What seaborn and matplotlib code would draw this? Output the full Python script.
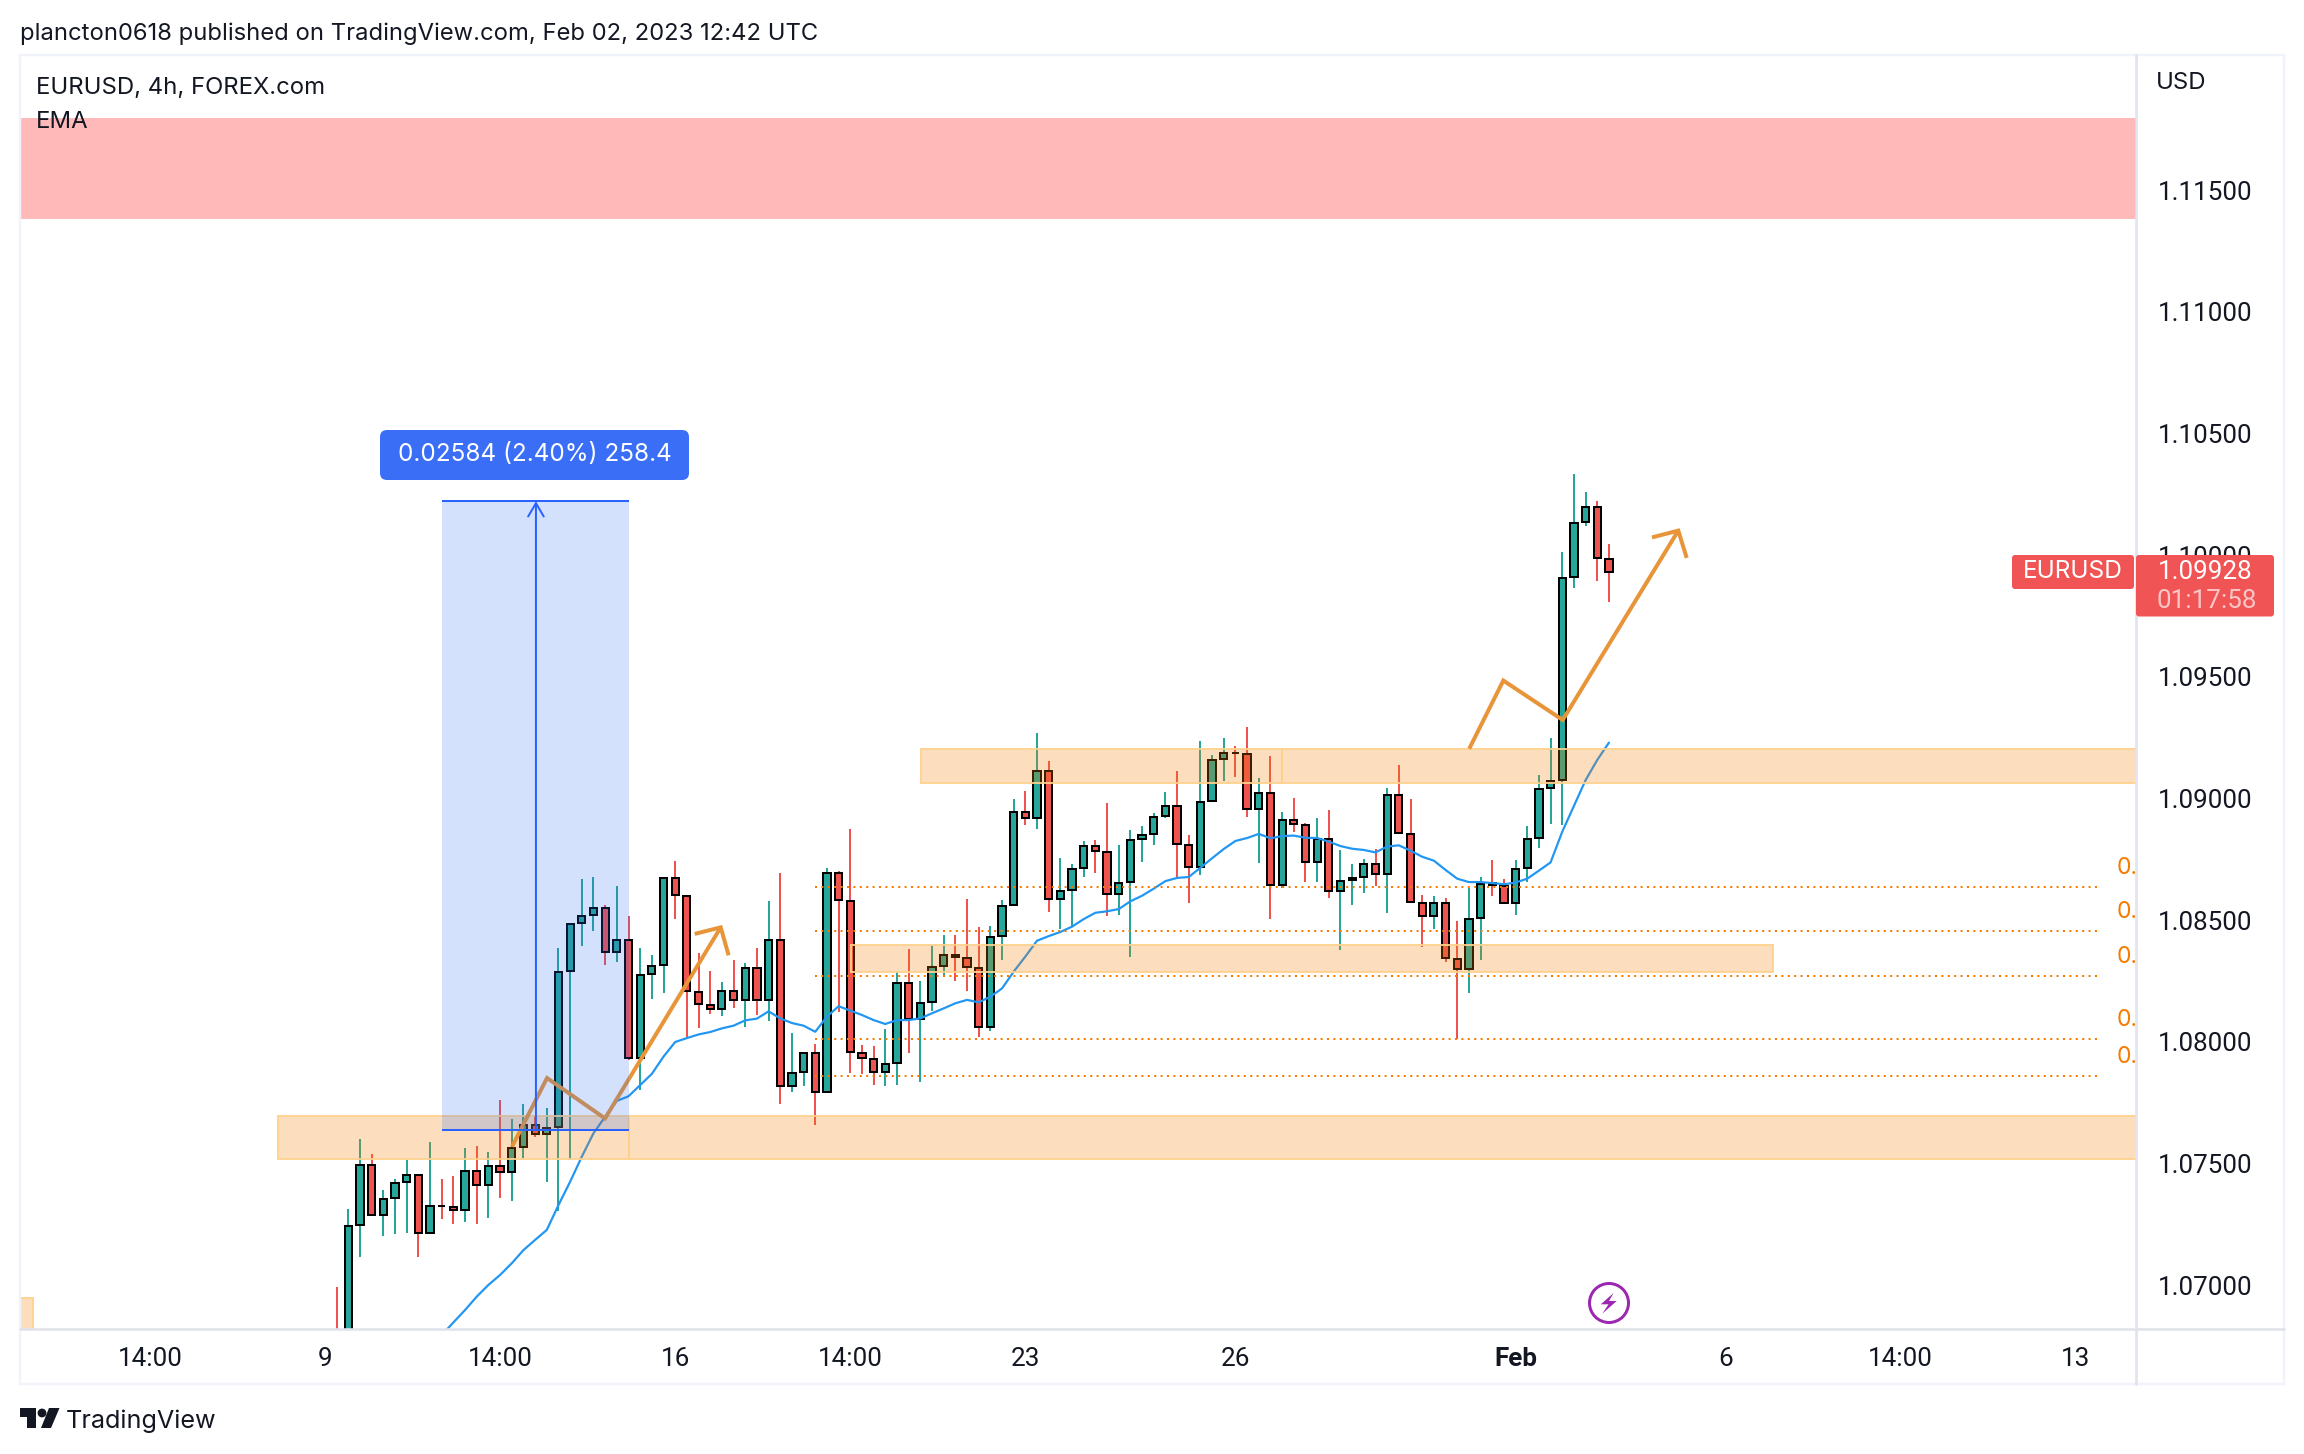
import matplotlib
matplotlib.use("Agg")
import matplotlib.pyplot as plt
import numpy as np
import pandas as pd
import seaborn as sns
from matplotlib.patches import Rectangle, FancyBboxPatch, Circle, Polygon
from matplotlib.lines import Line2D
from matplotlib.transforms import Affine2D

# ---------- data ----------
opens = [1.0680,1.0675,1.07248,1.07495,1.07289,1.07359,1.07425,1.07454,1.07215,1.07328,
 1.07322,1.0731,1.0747,1.07412,1.07491,1.07466,1.07569,1.07659,1.07622,1.07651,
 1.08292,1.08489,1.08522,1.08551,1.0837,1.08419,1.07934,1.08279,1.08316,1.08675,
 1.086,1.08205,1.08152,1.08136,1.0821,1.08173,1.08304,1.08173,1.08419,1.07819,
 1.07877,1.07955,1.07795,1.08694,1.08579,1.07955,1.0793,1.07877,1.07914,1.08242,
 1.08094,1.08164,1.08312,1.08357,1.08345,1.08304,1.08062,1.08435,1.08563,1.08945,
 1.0892,1.09113,1.08588,1.08624,1.08715,1.08805,1.08781,1.08608,1.08657,1.08834,
 1.08855,1.08929,1.0897,1.08809,1.08719,1.0899,1.09163,1.09189,1.09183,1.08957,
 1.09023,1.08645,1.08912,1.08892,1.0874,1.08834,1.0862,1.08666,1.08678,1.08731,
 1.0869,1.09015,1.08855,1.08571,1.08518,1.08571,1.08341,1.083,1.08509,1.08652,
 1.08641,1.08571,1.08715,1.08838,1.09044,1.09076,1.0991,1.10136,1.10199,1.09984]
highs = [1.06993,1.07313,1.0760,1.07538,1.07392,1.07436,1.07515,1.07454,1.07588,1.07436,
 1.07448,1.07563,1.07571,1.07547,1.07762,1.07682,1.07745,1.077,1.07727,1.08385,
 1.08485,1.08668,1.08677,1.08561,1.0864,1.08516,1.08385,1.08356,1.08675,1.08742,
 1.086,1.08364,1.0829,1.08245,1.08337,1.08323,1.08385,1.08578,1.08693,1.08036,
 1.07955,1.0799,1.08714,1.08701,1.08874,1.07986,1.07982,1.08052,1.0829,1.08381,
 1.08249,1.08397,1.08438,1.08438,1.08586,1.08471,1.08477,1.08583,1.08998,1.09031,
 1.09268,1.09153,1.08755,1.08731,1.08826,1.0883,1.08981,1.08808,1.0887,1.08886,
 1.08939,1.09026,1.09112,1.08849,1.09235,1.09178,1.09248,1.09215,1.09293,1.09083,
 1.09174,1.08944,1.09001,1.08898,1.08919,1.08952,1.08787,1.0873,1.0875,1.08792,
 1.09042,1.09137,1.08997,1.08603,1.08598,1.0859,1.08496,1.08633,1.08677,1.08746,
 1.08668,1.08746,1.08886,1.09096,1.09248,1.10012,1.10334,1.10258,1.10221,1.10045]
lows = [1.0670,1.0670,1.07115,1.07289,1.07204,1.07213,1.07217,1.07118,1.07215,1.07274,
 1.07254,1.07262,1.07254,1.07278,1.0736,1.07348,1.07525,1.07611,1.07426,1.07307,
 1.07517,1.08396,1.08457,1.08318,1.08329,1.07926,1.07804,1.08177,1.08201,1.08505,
 1.08019,1.08058,1.08115,1.08107,1.0814,1.08062,1.08111,1.08086,1.07745,1.07795,
 1.07819,1.07659,1.07795,1.08123,1.07873,1.07869,1.07823,1.07819,1.07823,1.07955,
 1.07836,1.08127,1.08275,1.08251,1.0821,1.08021,1.08045,1.08337,1.08563,1.08892,
 1.08875,1.08534,1.08464,1.08477,1.08678,1.08694,1.08518,1.08522,1.08349,1.0874,
 1.08809,1.0892,1.08678,1.08571,1.08686,1.0899,1.09072,1.09089,1.08924,1.08735,
 1.08505,1.08633,1.08863,1.08657,1.08657,1.08592,1.08378,1.08563,1.08612,1.08641,
 1.0853,1.08859,1.08575,1.0839,1.08464,1.08329,1.08012,1.08201,1.08337,1.086,
 1.08571,1.08522,1.08657,1.08797,1.08896,1.08892,1.09865,1.1012,1.09895,1.09808]
closes = [1.0675,1.07244,1.07495,1.07289,1.07355,1.07421,1.07454,1.07215,1.07326,1.07325,
 1.0731,1.0747,1.07412,1.07491,1.07466,1.07565,1.07659,1.07622,1.07647,1.08288,
 1.08485,1.08518,1.08551,1.0837,1.08419,1.07934,1.08275,1.08312,1.08675,1.08604,
 1.0821,1.08156,1.08136,1.0821,1.08173,1.08304,1.08173,1.08419,1.07819,1.07873,
 1.07955,1.07795,1.08694,1.08583,1.07959,1.07934,1.07877,1.0791,1.08242,1.08094,
 1.0816,1.08308,1.08357,1.08349,1.08308,1.08062,1.08431,1.08559,1.08945,1.0892,
 1.09113,1.08588,1.0862,1.08711,1.08805,1.08785,1.08608,1.08653,1.0883,1.0885,
 1.08924,1.0897,1.08813,1.08719,1.08986,1.09159,1.09187,1.09186,1.08957,1.09023,
 1.08645,1.08912,1.08896,1.0874,1.08834,1.0862,1.08661,1.08675,1.08731,1.0869,
 1.09015,1.08859,1.08575,1.08518,1.08571,1.08345,1.083,1.08505,1.08649,1.08645,
 1.08571,1.08711,1.08834,1.09039,1.09072,1.09906,1.10134,1.10199,1.09989,1.09931]

ema_start = 9
ema_values = [1.06796,1.06848,1.06899,1.06954,1.07002,1.07043,1.07091,1.07145,1.07187,1.07228,
 1.0733,1.07426,1.07529,1.07625,1.07693,1.07758,1.07777,1.07823,1.07869,1.0794,
 1.08,1.08016,1.08031,1.08041,1.08056,1.08067,1.08089,1.08096,1.08126,1.08097,
 1.08078,1.08067,1.08042,1.08104,1.08147,1.08129,1.08111,1.0809,1.08074,1.0809,
 1.0809,1.08097,1.08118,1.08138,1.08159,1.08173,1.08163,1.08186,1.0822,1.08289,
 1.08351,1.08416,1.08435,1.08452,1.08474,1.08505,1.08531,1.08537,1.08546,1.08578,
 1.08601,1.0863,1.08661,1.08674,1.08678,1.08716,1.08755,1.08793,1.08826,1.08838,
 1.08855,1.08837,1.08846,1.08848,1.08839,1.08838,1.08823,1.08805,1.08794,1.08789,
 1.08779,1.08803,1.08808,1.08786,1.08761,1.08745,1.08707,1.08671,1.08657,1.08657,
 1.08653,1.08648,1.08655,1.08671,1.08704,1.08738,1.08864,1.0897,1.09076,1.09159,1.0923]

price_ticks = [1.07,1.075,1.08,1.085,1.09,1.095,1.10,1.105,1.11,1.115]
time_tick_bars = [-16,-1,14,29,44,59,77,101,119,134,149]
time_tick_labels = ["14:00","9","14:00","16","14:00","23","26","Feb","6","14:00","13"]

# zones: left bar, right bar, low price, high price
zone_left = [-5.03,25.05,50.03,81.0,44.06,-28.0]
zone_right = [25.05,160.0,81.0,160.0,123.06,-26.0]
zone_low = [1.07519,1.07519,1.09064,1.09064,1.08286,1.0670]
zone_high = [1.07697,1.07697,1.09205,1.09205,1.08399,1.06948]
red_zone = (1.11381,1.11796)

fib_levels = [1.08637,1.08456,1.08271,1.08012,1.0786]
fib_span = (40.98,151.08)

measure_span = (9.03,25.05)
measure_prices = (1.07638,1.10222)
measure_mid = 17.07
measure_text = "0.02584 (2.40%) 258.4"

path1_bars = [15.02,18.02,22.99,32.9]
path1_prices = [1.0757,1.07852,1.07686,1.08471]
head1_bars = [30.67,32.9,33.58]
head1_prices = [1.08444,1.08471,1.08356]
path2_bars = [97.03,99.95,105.04,114.94]
path2_prices = [1.09205,1.09485,1.09323,1.10101]
head2_bars = [112.69,114.94,115.66]
head2_prices = [1.10073,1.10101,1.09989]

# ---------- layout ----------
W, H = 2304, 1454
L, R, T, B = 20, 2136, 55, 1329
BAR0, STEP = 336.7, 11.672
px = lambda p: p * 0.72

sns.set_theme(style="white")
FONT = ["Inter", "DejaVu Sans"]
plt.rcParams["font.family"] = FONT
NUM = ["Roboto", "DejaVu Sans"]
INK = "#131722"
GREEN, RED = "#26A69A", "#EF5350"

fig = plt.figure(figsize=(W / 100, H / 100), dpi=100, facecolor="white")
ax = fig.add_axes([L / W, 1 - B / H, (R - L) / W, (B - T) / H])
ax.set_xlim((L - BAR0) / STEP, (R - BAR0) / STEP)
ax.set_ylim(1.08 + (1042 - B) / 24340, 1.08 + (1042 - T) / 24340)
for s in ax.spines.values():
    s.set_visible(False)

df = pd.DataFrame({"bar": np.arange(len(opens)), "open": opens, "high": highs, "low": lows, "close": closes})
df["up"] = df["close"] >= df["open"]
df["color"] = np.where(df["up"], GREEN, RED)

# candles
ax.vlines(df["bar"], df["low"], df["high"], colors=df["color"], linewidth=px(2), zorder=2)
ax.bar(df["bar"], (df["close"] - df["open"]).abs(), bottom=df[["open", "close"]].min(axis=1), width=0.62,
       color=df["color"], edgecolor="black", linewidth=px(2), zorder=3)

# EMA
ema = pd.DataFrame({"bar": np.arange(ema_start, ema_start + len(ema_values)), "ema": ema_values})
sns.lineplot(data=ema, x="bar", y="ema", color="#2196F3", linewidth=px(2.2), ax=ax, zorder=4, errorbar=None)

# zones (over the candles)
ax.add_patch(Rectangle((-40, red_zone[0]), 220, red_zone[1] - red_zone[0], facecolor="#FFB9B9", edgecolor="none", zorder=1))
for l, r, lo, hi in zip(zone_left, zone_right, zone_low, zone_high):
    ax.add_patch(Rectangle((l, lo), r - l, hi - lo, facecolor=(0.96, 0.486, 0, 0.25),
                           edgecolor=(1, 0.82, 0.55, 0.9), linewidth=px(2), zorder=5))

# fib lines
ax.hlines(fib_levels, fib_span[0], fib_span[1], colors="#F57C00", linewidth=px(2),
          linestyles=[(0, (1, 2.2))], zorder=4.5)
for lv in fib_levels:
    ax.annotate("0.", (151.08, lv), xytext=(17 * 0.72, 19 * 0.72), textcoords="offset points",
                color="#F57C00", fontsize=px(23), va="center", ha="left", clip_on=True,
                annotation_clip=False, zorder=4.5)

# hand drawn orange arrows
for bx, by in [(path1_bars, path1_prices), (head1_bars, head1_prices), (path2_bars, path2_prices), (head2_bars, head2_prices)]:
    ax.plot(bx, by, color="#E8953A", linewidth=px(4), solid_joinstyle="miter", solid_capstyle="butt", zorder=6)

# measure tool
ax.add_patch(Rectangle((measure_span[0], measure_prices[0]), measure_span[1] - measure_span[0],
                       measure_prices[1] - measure_prices[0], facecolor=(0.16, 0.42, 0.96, 0.2),
                       edgecolor="none", zorder=7))
ax.hlines(measure_prices, measure_span[0], measure_span[1], colors="#2962FF", linewidth=px(2), zorder=8)
ax.annotate("", xy=(measure_mid, measure_prices[1]), xytext=(measure_mid, measure_prices[0]),
            arrowprops=dict(arrowstyle="->,head_length=0.6,head_width=0.35", color="#2962FF", lw=px(2),
                            shrinkA=0, shrinkB=0, mutation_scale=16), zorder=8)

# axes ticks
ax.set_xlabel(""); ax.set_ylabel("")
ax.yaxis.tick_right()
ax.set_yticks(price_ticks)
ax.set_yticklabels([f"{v:.5f}" for v in price_ticks], fontfamily=NUM)
ax.set_xticks(time_tick_bars)
ax.set_xticklabels(time_tick_labels, fontfamily=NUM)
ax.tick_params(axis="y", length=0, pad=px(22), labelsize=px(26), labelcolor=INK)
ax.tick_params(axis="x", length=0, pad=px(18), labelsize=px(26), labelcolor=INK)
ax.get_xticklabels()[time_tick_labels.index("Feb")].set_fontweight("bold")
for lab in ax.get_yticklabels():
    lab.set_horizontalalignment("left")

# ---------- furniture in pixel coordinates, y downwards ----------
PT = Affine2D().scale(1, -1).translate(0, H)
def frect(x0, y0, x1, y1, **kw):
    kw.setdefault("zorder", 2)
    fig.add_artist(Rectangle((x0, y0), x1 - x0, y1 - y0, transform=PT, **kw))
def fline(xs, ys, color, lw=2):
    fig.add_artist(Line2D(xs, ys, color=color, linewidth=px(lw), transform=PT, zorder=2))
def ftext(x, y, s, size, color=INK, ha="left", **kw):
    fig.text(x, y, s, transform=PT, fontsize=px(size), color=color, ha=ha, va="center", zorder=6, **kw)
def fround(x0, y0, x1, y1, color, r=5):
    fig.add_artist(FancyBboxPatch((x0, y0), x1 - x0, y1 - y0, boxstyle=f"round,pad=0,rounding_size={r}",
                                  mutation_scale=1, facecolor=color, edgecolor="none", transform=PT, zorder=4))

frect(L, T, 2284, 1384, facecolor="none", edgecolor="#F0F3FA", linewidth=px(2.4))
fline([L, 2284], [B, B], "#E0E3EB", 2.6)
fline([R, R], [T, 1384], "#E0E3EB", 2.6)

ftext(20, 33.5, "plancton0618 published on TradingView.com, Feb 02, 2023 12:42 UTC", 23.8)
ftext(36, 87.5, "EURUSD, 4h, FOREX.com", 23.9)
ftext(36, 121.5, "EMA", 24)
ftext(2156, 83, "USD", 24)

# measure label
fround(380, 430, 689, 480, "#3A6EF6", 7)
ftext(534.5, 455, measure_text, 24.3, color="white", ha="center")

# price tags
fround(2012, 555, 2134, 589, "#F05454", 3)
ftext(2073, 572, "EURUSD", 24.5, color="white", ha="center")
fround(2136, 555, 2274, 616.5, "#F05454", 3)
ftext(2158, 572, "1.09928", 26, color="white", family=NUM)
ftext(2157, 601, "01:17:58", 26, color="#F9C6C6", family=NUM)

# purple flash icon
fig.add_artist(Circle((1609, 1303), 19.5, facecolor="white", edgecolor="#9C27B0", linewidth=px(3), transform=PT, zorder=4))
cx, cy = 1609, 1303
fig.add_artist(Polygon([(cx + 4.6, cy - 10), (cx - 8.2, cy + 1.3), (cx - 0.5, cy + 1.3), (cx - 6.7, cy + 10.7),
                        (cx + 7.7, cy - 2), (cx, cy - 2)], closed=True, facecolor="#9C27B0", edgecolor="none",
                       transform=PT, zorder=5))

# TradingView logo + word
logo = INK
fig.add_artist(Polygon([(20, 1408), (36, 1408), (36, 1428), (27, 1428), (27, 1417), (20, 1417)], closed=True,
                       facecolor=logo, edgecolor="none", transform=PT, zorder=5))
fig.add_artist(Circle((42, 1413), 4.4, facecolor=logo, edgecolor="none", transform=PT, zorder=5))
fig.add_artist(Polygon([(49, 1408), (59.5, 1408), (51, 1428), (41, 1428)], closed=True, facecolor=logo,
                       edgecolor="none", transform=PT, zorder=5))
ftext(66, 1421, "TradingView", 25.2, color=INK)

fig.savefig("out.png", dpi=100, facecolor="white")
